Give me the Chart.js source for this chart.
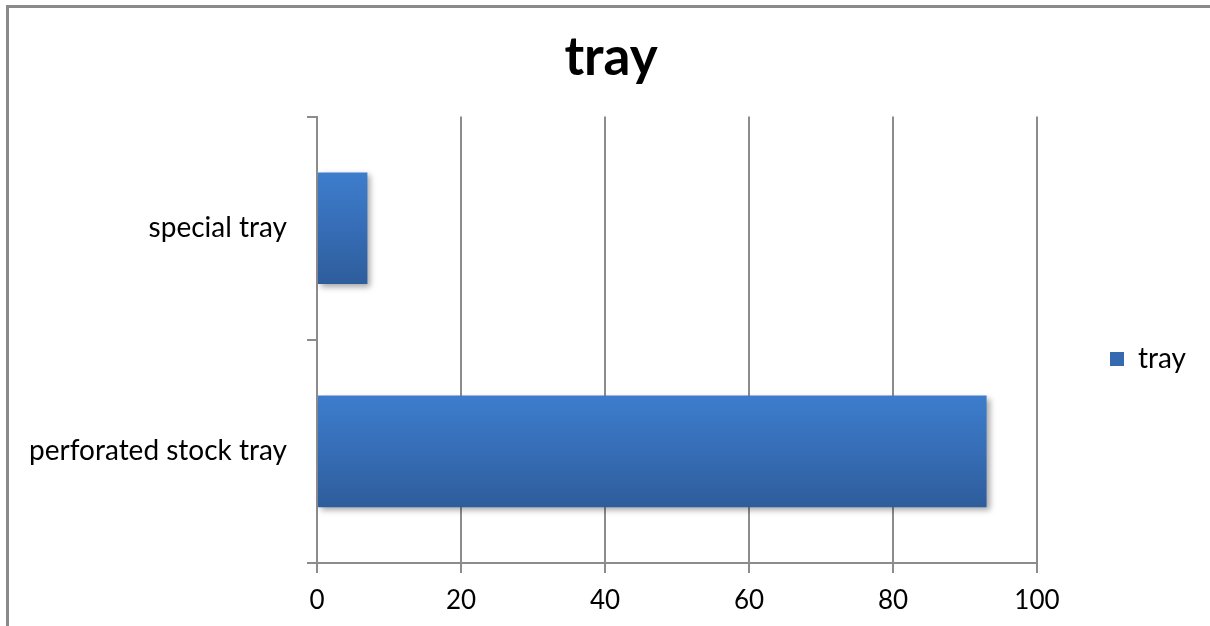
<!DOCTYPE html>
<html>
<head>
<meta charset="utf-8">
<title>tray</title>
<script src="https://cdn.jsdelivr.net/npm/chart.js@4/dist/chart.umd.min.js"></script>
<style>
  html, body { margin: 0; padding: 0; background: #ffffff; }
  #wrap { position: relative; width: 1210px; height: 626px; overflow: hidden; }
  #frame {
    position: absolute; left: 6px; top: 5px; width: 1300px; height: 700px;
    border-top: 3px solid #8a8a8a; border-left: 3px solid #8a8a8a;
    pointer-events: none;
  }
  canvas { position: absolute; left: 0; top: 0; }
</style>
</head>
<body>
<div id="wrap">
  <canvas id="c" width="1210" height="626"></canvas>
  <div id="frame"></div>
</div>
<script>
// Categories, top to bottom
const categories = ['special tray', 'perforated stock tray'];
const seriesName = 'tray';
const trayValues = [7, 93];
const xTicks = [0, 20, 40, 60, 80, 100];

const FONT = "Lato, 'Open Sans', sans-serif";
const GRID = '#8c8c8c';

// Vertical blue gradient for each bar, following its own band on the y scale
function barFill(ctx) {
  const chart = ctx.chart;
  const y = chart.scales && chart.scales.y;
  if (!y || ctx.dataIndex === undefined) return '#3a72bd';
  const center = y.getPixelForValue(ctx.dataIndex);
  const half = (y.height / categories.length) * 0.5 / 2;
  const g = chart.ctx.createLinearGradient(0, center - half, 0, center + half);
  g.addColorStop(0, '#3d7dcc');
  g.addColorStop(0.5, '#366db6');
  g.addColorStop(1, '#2e5d9b');
  return g;
}

// Soft drop shadow under the bars
const barShadow = {
  id: 'barShadow',
  beforeDatasetsDraw(chart) {
    const c = chart.ctx;
    c.save();
    c.shadowColor = 'rgba(0,0,0,0.35)';
    c.shadowBlur = 6;
    c.shadowOffsetX = 3;
    c.shadowOffsetY = 3;
  },
  afterDatasetsDraw(chart) {
    chart.ctx.restore();
  }
};

// Lower the legend beside the middle of the plot, nudge the title right
const blockShift = {
  id: 'blockShift',
  afterLayout(chart) {
    const lg = chart.legend;
    if (lg) { lg.top += 46; lg.bottom += 46; }
    const tb = chart.titleBlock;
    if (tb) { tb.left += 8; tb.right += 8; tb.top += 2; tb.bottom += 2; }
  }
};

new Chart(document.getElementById('c'), {
  type: 'bar',
  data: {
    labels: categories,
    datasets: [{
      label: seriesName,
      data: trayValues,
      backgroundColor: barFill,
      borderWidth: 0,
      categoryPercentage: 1.0,
      barPercentage: 0.5
    }]
  },
  options: {
    indexAxis: 'y',
    responsive: false,
    animation: false,
    devicePixelRatio: 1,
    layout: { padding: { left: 10, right: 14, top: 0, bottom: 0 } },
    plugins: {
      title: {
        display: true,
        text: 'tray',
        color: '#000',
        font: { family: FONT, size: 53, weight: 'bold' },
        padding: { top: 24, bottom: 29 }
      },
      legend: {
        display: true,
        position: 'right',
        labels: {
          color: '#000',
          font: { family: FONT, size: 28 },
          boxWidth: 14,
          boxHeight: 14,
          padding: 73,
          generateLabels() {
            return [{
              text: seriesName,
              fillStyle: '#3569b0',
              strokeStyle: '#3569b0',
              lineWidth: 0,
              datasetIndex: 0,
              hidden: false
            }];
          }
        }
      },
      tooltip: { enabled: false }
    },
    scales: {
      x: {
        type: 'linear',
        min: xTicks[0],
        max: xTicks[xTicks.length - 1],
        afterBuildTicks(scale) { scale.ticks = xTicks.map(v => ({ value: v })); },
        afterFit(scale) { scale.height = 63; },
        border: { display: true, color: GRID, width: 2 },
        grid: { color: GRID, lineWidth: 2, tickLength: 10, drawOnChartArea: true },
        ticks: { color: '#000', font: { family: FONT, size: 26 }, padding: 12 }
      },
      y: {
        type: 'category',
        afterFit(scale) { scale.width = 307; },
        border: { display: true, color: GRID, width: 2 },
        grid: { color: GRID, lineWidth: 2, tickLength: 10, drawOnChartArea: false, offset: true },
        ticks: { color: '#000', font: { family: FONT, size: 28 }, padding: 20 }
      }
    }
  },
  plugins: [barShadow, blockShift]
});
</script>
</body>
</html>
